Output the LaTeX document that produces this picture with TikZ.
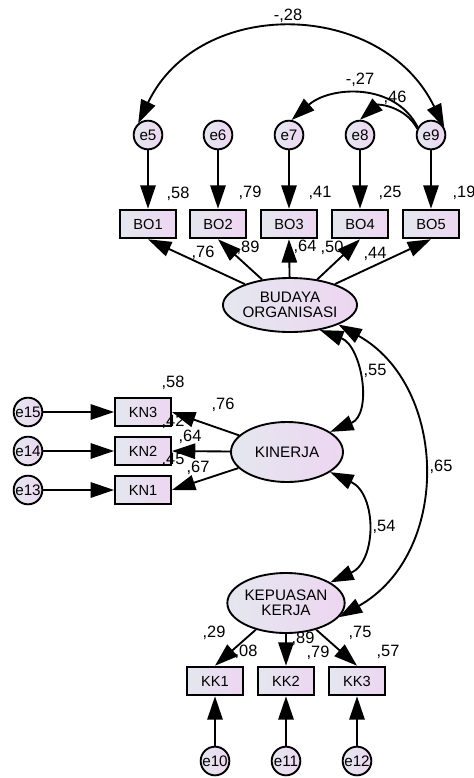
\documentclass[tikz,border=0pt]{standalone}
\usepackage{fontspec}
\setmainfont{Liberation Sans}
\usetikzlibrary{arrows.meta,shapes.geometric}
\definecolor{fillL}{HTML}{E4E7EF}
\definecolor{fillR}{HTML}{EDD6F1}
\tikzset{
	obs/.style={draw, line width=1.6pt, left color=fillL, right color=fillR, minimum width=1.68cm, minimum height=0.86cm, inner sep=0pt, font=\fontsize{12.5}{12}\selectfont},
	lat/.style={ellipse, draw, line width=1.6pt, left color=fillL, right color=fillR, inner sep=0pt, align=center, font=\fontsize{13}{12.5}\selectfont},
	err/.style={circle, draw, line width=1.6pt, left color=fillL, right color=fillR, minimum size=0.86cm, inner sep=0pt, font=\fontsize{13}{13}\selectfont},
	lbl/.style={inner sep=0pt, font=\fontsize{14}{14}\selectfont},
	reg/.style={->, line width=1.6pt},
	cov/.style={<->, line width=1.6pt}
}

\begin{document}
\begin{tikzpicture}[x=0.03cm, y=0.03cm, >={Triangle[length=7mm,width=4.6mm]}]
	\useasboundingbox (0,0) rectangle (474,-778);
	\node[lat, minimum width=3.36cm, minimum height=1.62cm] (BUD) at (290,-305) {BUDAYA\\ORGANISASI};
	\node[lat, minimum width=3.36cm, minimum height=1.8cm] (KIN) at (287,-452) {KINERJA};
	\node[lat, minimum width=3.42cm, minimum height=1.8cm] (KEP) at (286,-603) {KEPUASAN\\KERJA};
	\foreach \i/\e/\x in {1/5/148, 2/6/218, 3/7/289, 4/8/360, 5/9/431} {
		\node[obs] (BO\i) at (\x,-224) {BO\i};
		\node[err] (e\e) at (\x,-135) {e\e};
		\draw[reg] (e\e) -- (BO\i);
		\draw[reg] (BUD) -- (BO\i.south);
	}
	\foreach \i/\e/\y in {3/15/-412, 2/14/-451, 1/13/-490} {
		\node[obs] (KN\i) at (143,\y) {KN\i};
		\node[err] (e\e) at (28,\y) {e\e};
		\draw[reg] (e\e) -- (KN\i);
		\draw[reg] (KIN) -- (KN\i.east);
	}
	\foreach \i/\e/\x in {1/10/215, 2/11/286, 3/12/357} {
		\node[obs] (KK\i) at (\x,-681) {KK\i};
		\node[err] (e\e) at (\x,-761) {e\e};
		\draw[reg] (e\e) -- (KK\i);
		\draw[reg] (KEP) -- (KK\i.north);
	}
	\draw[cov] (e5.130) .. controls (199,4) and (382,1) .. (e9.30);
	\draw[reg] (e9.150) .. controls (395,-82) and (330,-86) .. (e7.80);
	\draw[reg] (e9.155) .. controls (405,-106) and (378,-104) .. (e8.90);
	\draw[cov] (BUD.-40) .. controls (362,-346) and (373,-414) .. (KIN.25);
	\draw[cov] (KIN.-25) .. controls (377,-494) and (377,-561) .. (KEP.25);
	\draw[cov] (BUD.-22) .. controls (448,-386) and (452,-553) .. (KEP.-15);
	\foreach \n/\t/\x/\y in {
		rBO1/{,58}/178/-194, rBO2/{,79}/250/-193, rBO3/{,41}/320/-193, rBO4/{,25}/390/-193, rBO5/{,19}/464/-193,
		wBO1/{,76}/203/-253, wBO2/{,89}/248/-248, wBO3/{,64}/305/-247, wBO4/{,50}/332/-248, wBO5/{,44}/375/-254,
		rKN3/{,58}/173/-383, wKN3/{,76}/223/-405, rKN2/{,42}/173/-422, wKN2/{,64}/190/-437, rKN1/{,45}/173/-460, wKN1/{,67}/198/-468,
		wKK1/{,29}/214/-633, rKK1/{,08}/246/-652, wKK2/{,89}/303/-639, rKK2/{,79}/318/-653, wKK3/{,75}/360/-633, rKK3/{,57}/388/-652,
		c59/{-,28}/288/-16, c79/{-,27}/360/-80, c89/{,46}/395/-98,
		cBK/{,55}/375/-371, cKK/{,54}/384/-527, cBP/{,65}/441/-467}
		\node[lbl] (\n) at (\x,\y) {\t};
\end{tikzpicture}
\end{document}
